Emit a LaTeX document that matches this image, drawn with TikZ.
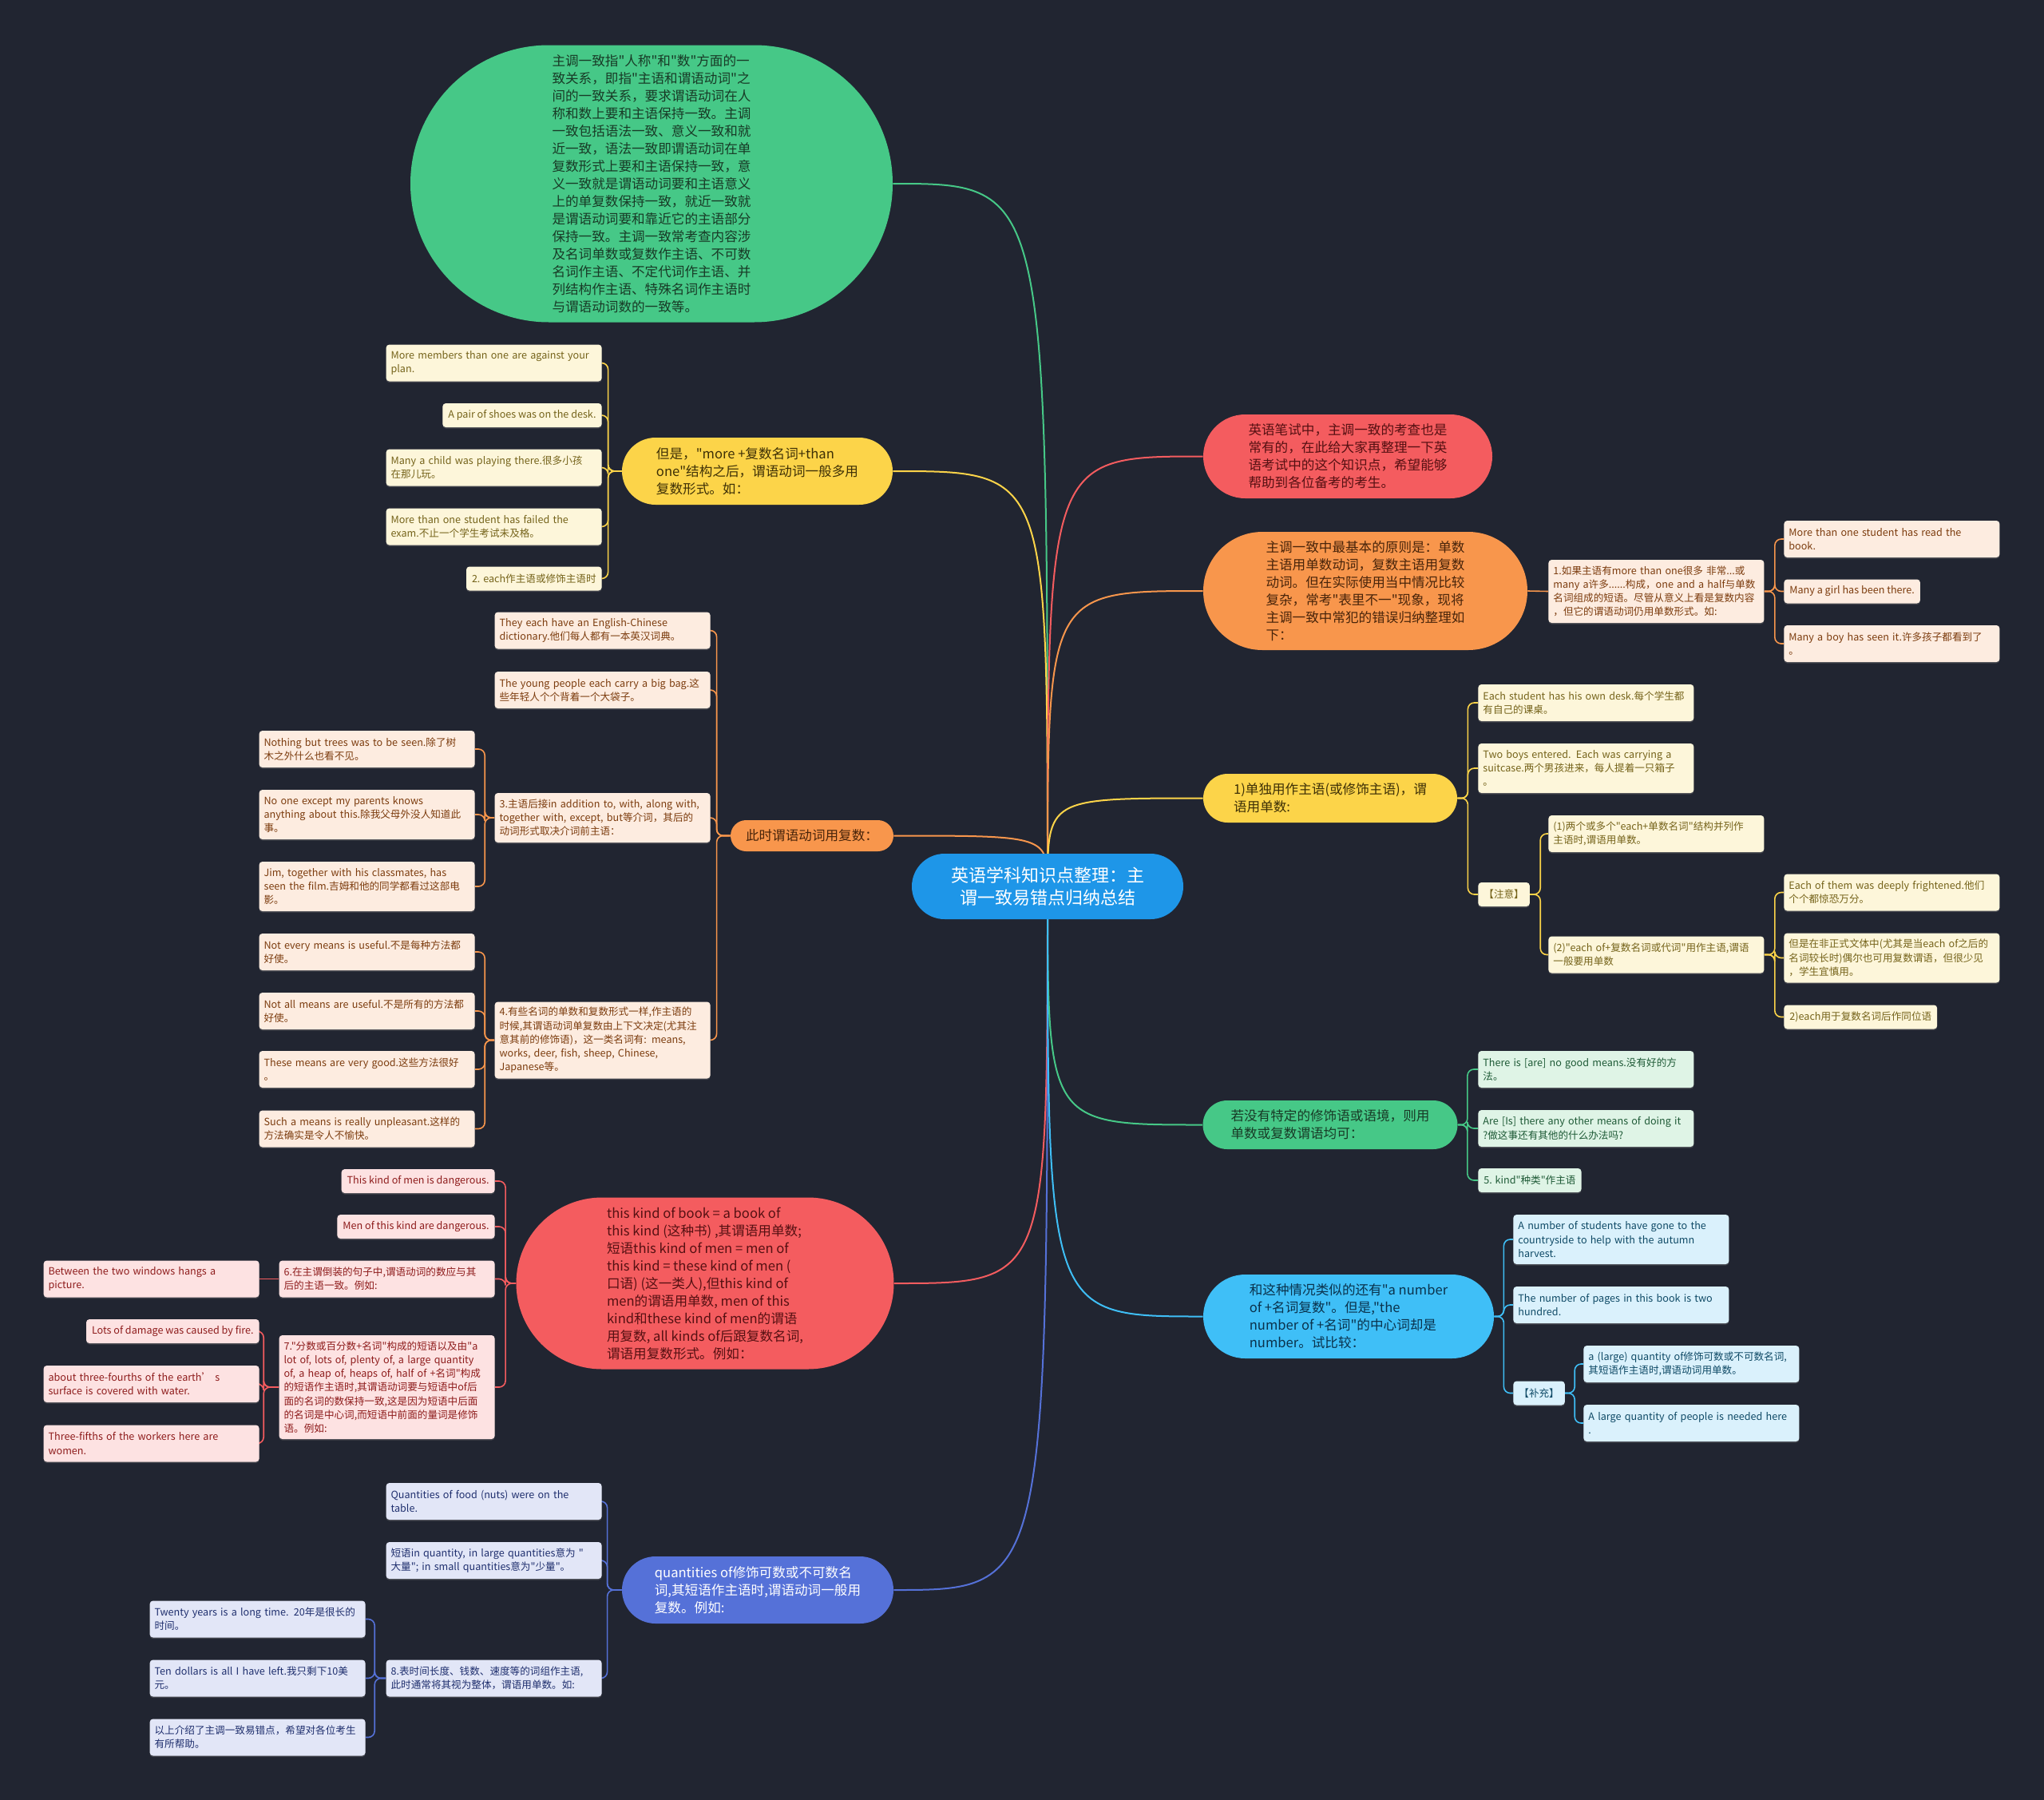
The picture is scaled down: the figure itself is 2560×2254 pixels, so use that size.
\documentclass[tikz,border=0pt]{standalone}
\usepackage{fontspec}
\setmainfont{Noto Sans CJK SC}[Ligatures=TeXOff]
\usetikzlibrary{shapes.misc, backgrounds, shadows}
\definecolor{bgcol}{RGB}{33,37,49}
\definecolor{cRoot}{RGB}{30,150,232}
\definecolor{cGreen}{RGB}{70,200,135}
\definecolor{cYellow}{RGB}{252,212,73}
\definecolor{cOrange}{RGB}{248,150,76}
\definecolor{cRed}{RGB}{244,92,95}
\definecolor{cIndigo}{RGB}{85,113,216}
\definecolor{cSky}{RGB}{63,191,247}
\definecolor{tGreen}{RGB}{24,58,38}
\definecolor{tYellow}{RGB}{62,48,6}
\definecolor{tOrange}{RGB}{72,36,10}
\definecolor{tRed}{RGB}{86,16,18}
\definecolor{tSky}{RGB}{10,50,76}
\definecolor{fGreen}{RGB}{223,244,230}
\definecolor{fYellow}{RGB}{253,246,218}
\definecolor{fOrange}{RGB}{253,236,224}
\definecolor{fRed}{RGB}{253,226,226}
\definecolor{fIndigo}{RGB}{226,230,247}
\definecolor{fSky}{RGB}{218,241,252}
\definecolor{kGreen}{RGB}{30,90,54}
\definecolor{kYellow}{RGB}{117,99,26}
\definecolor{kOrange}{RGB}{124,60,14}
\definecolor{kRed}{RGB}{142,28,28}
\definecolor{kIndigo}{RGB}{31,47,110}
\definecolor{kSky}{RGB}{15,74,102}
\tikzstyle{every node}=[font=\fontsize{6.3}{8.6}\selectfont]
\tikzstyle{rootnode}=[rounded rectangle, fill=cRoot, text=white, align=center, inner sep=0pt, minimum width=170pt, minimum height=41pt, font=\fontsize{11}{14}\selectfont]
\tikzstyle{branch}=[rounded rectangle, align=left, inner sep=0pt, font=\fontsize{8.3}{11}\selectfont]
\tikzstyle{leaf}=[rectangle, rounded corners=2pt, align=left, inner xsep=3.5pt, inner ysep=2pt, drop shadow={shadow xshift=0pt, shadow yshift=-0.8pt, opacity=.35}]
\tikzstyle{wide}=[text width=129pt, inner xsep=3pt]
\tikzstyle{one}=[minimum height=15pt]
\tikzstyle{two}=[minimum height=23pt]
\tikzstyle{three}=[minimum height=31pt]
\tikzstyle{gleaf}=[leaf, fill=fGreen, text=kGreen]
\tikzstyle{yleaf}=[leaf, fill=fYellow, text=kYellow]
\tikzstyle{oleaf}=[leaf, fill=fOrange, text=kOrange]
\tikzstyle{rleaf}=[leaf, fill=fRed, text=kRed]
\tikzstyle{ileaf}=[leaf, fill=fIndigo, text=kIndigo]
\tikzstyle{sleaf}=[leaf, fill=fSky, text=kSky]
\tikzstyle{rootlink}=[line width=1pt]
\tikzstyle{bracket}=[line width=0.8pt, rounded corners=4pt]

\begin{document}
\begin{tikzpicture}[x=0.5pt, y=-0.5pt]
\useasboundingbox (0,0) rectangle (2560,2254);
% central topic
\node[rootnode] (root) at (1312,1110) {英语学科知识点整理：主\\谓一致易错点归纳总结};

% left: definition
\node[branch, fill=cGreen, text=tGreen, minimum width=302pt, minimum height=173.5pt] (defTop) at (816,230) {主调一致指"人称"和"数"方面的一\\致关系，即指"主语和谓语动词"之\\间的一致关系，要求谓语动词在人\\称和数上要和主语保持一致。主调\\一致包括语法一致、意义一致和就\\近一致，语法一致即谓语动词在单\\复数形式上要和主语保持一致，意\\义一致就是谓语动词要和主语意义\\上的单复数保持一致，就近一致就\\是谓语动词要和靠近它的主语部分\\保持一致。主调一致常考查内容涉\\及名词单数或复数作主语、不可数\\名词作主语、不定代词作主语、并\\列结构作主语、特殊名词作主语时\\与谓语动词数的一致等。};

% left: more than one
\node[branch, fill=cYellow, text=tYellow, minimum width=169.5pt, minimum height=42pt] (moreB) at (948.5,590) {但是，"more +复数名词+than\\one"结构之后，谓语动词一般多用\\复数形式。如：};
\node[yleaf, wide, two, anchor=east] (more1) at (754,454.5) {More members than one are against your\\plan.};
\node[yleaf, one, anchor=east] (more2) at (754,520) {A pair of shoes was on the desk.};
\node[yleaf, wide, two, anchor=east] (more3) at (754,585.5) {Many a child was playing there.很多小孩\\在那儿玩。};
\node[yleaf, wide, two, anchor=east] (more4) at (754,659.5) {More than one student has failed the\\exam.不止一个学生考试未及格。};
\node[yleaf, one, anchor=east] (more5) at (754,724.5) {2. each作主语或修饰主语时};

% left: plural verb
\node[branch, fill=cOrange, text=tOrange, minimum width=102pt, minimum height=19.5pt] (pluralB) at (1017,1046.5) {此时谓语动词用复数：};
\node[oleaf, wide, two, anchor=east] (plural1) at (890,789.5) {They each have an English-Chinese\\dictionary.他们每人都有一本英汉词典。};
\node[oleaf, wide, two, anchor=east] (plural2) at (890,864) {The young people each carry a big bag.这\\些年轻人个个背着一个大袋子。};
\node[oleaf, wide, three, anchor=east] (plural3) at (890,1024) {3.主语后接in addition to, with, along with,\\together with, except, but等介词，其后的\\动词形式取决介词前主语：};
\node[oleaf, wide, minimum height=48pt, anchor=east] (plural4) at (890,1302.5) {4.有些名词的单数和复数形式一样,作主语的\\时候,其谓语动词单复数由上下文决定(尤其注\\意其前的修饰语)，这一类名词有: means,\\works, deer, fish, sheep, Chinese,\\Japanese等。};
\node[oleaf, wide, two, anchor=east] (plural31) at (595,938) {Nothing but trees was to be seen.除了树\\木之外什么也看不见。};
\node[oleaf, wide, three, anchor=east] (plural32) at (595,1020) {No one except my parents knows\\anything about this.除我父母外没人知道此\\事。};
\node[oleaf, wide, three, anchor=east] (plural33) at (595,1110) {Jim, together with his classmates, has\\seen the film.吉姆和他的同学都看过这部电\\影。};
\node[oleaf, wide, two, anchor=east] (plural41) at (595,1192) {Not every means is useful.不是每种方法都\\好使。};
\node[oleaf, wide, two, anchor=east] (plural42) at (595,1266) {Not all means are useful.不是所有的方法都\\好使。};
\node[oleaf, wide, two, anchor=east] (plural43) at (595,1339) {These means are very good.这些方法很好\\。};
\node[oleaf, wide, two, anchor=east] (plural44) at (595,1413.5) {Such a means is really unpleasant.这样的\\方法确实是令人不愉快。};

% left: this kind of
\node[branch, fill=cRed, text=tRed, minimum width=236.5pt, minimum height=107.5pt] (kindB) at (883,1607) {this kind of book = a book of\\this kind (这种书) ,其谓语用单数;\\短语this kind of men = men of\\this kind = these kind of men (\\口语) (这一类人),但this kind of\\men的谓语用单数, men of this\\kind和these kind of men的谓语\\用复数, all kinds of后跟复数名词,\\谓语用复数形式。例如：};
\node[rleaf, one, anchor=east] (kind1) at (620,1479) {This kind of men is dangerous.};
\node[rleaf, one, anchor=east] (kind2) at (620,1536) {Men of this kind are dangerous.};
\node[rleaf, wide, two, anchor=east] (kind6) at (620,1601.5) {6.在主谓倒装的句子中,谓语动词的数应与其\\后的主语一致。例如:};
\node[rleaf, wide, minimum height=65pt, anchor=east] (kind7) at (620,1737) {7."分数或百分数+名词"构成的短语以及由"a\\lot of, lots of, plenty of, a large quantity\\of, a heap of, heaps of, half of +名词"构成\\的短语作主语时,其谓语动词要与短语中of后\\面的名词的数保持一致,这是因为短语中后面\\的名词是中心词,而短语中前面的量词是修饰\\语。例如:};
\node[rleaf, wide, two, anchor=east] (kind61) at (325,1601.5) {Between the two windows hangs a\\picture.};
\node[rleaf, one, anchor=east] (kind71) at (325,1667) {Lots of damage was caused by fire.};
\node[rleaf, wide, two, anchor=east] (kind72) at (325,1733) {about three-fourths of the earth’ s\\surface is covered with water.};
\node[rleaf, wide, two, anchor=east] (kind73) at (325,1807.5) {Three-fifths of the workers here are\\women.};

% left: quantities of
\node[branch, fill=cIndigo, text=white, minimum width=170pt, minimum height=42pt] (quantB) at (949,1991) {quantities of修饰可数或不可数名\\词,其短语作主语时,谓语动词一般用\\复数。例如:};
\node[ileaf, wide, two, anchor=east] (quant1) at (754,1880) {Quantities of food (nuts) were on the\\table.};
\node[ileaf, wide, two, anchor=east] (quant2) at (754,1954) {短语in quantity, in large quantities意为 "\\大量"; in small quantities意为"少量"。};
\node[ileaf, wide, two, anchor=east] (quant8) at (754,2101.5) {8.表时间长度、钱数、速度等的词组作主语,\\此时通常将其视为整体，谓语用单数。如:};
\node[ileaf, wide, two, anchor=east] (quant81) at (458,2027.5) {Twenty years is a long time. 20年是很长的\\时间。};
\node[ileaf, wide, two, anchor=east] (quant82) at (458,2101.5) {Ten dollars is all I have left.我只剩下10美\\元。};
\node[ileaf, wide, two, anchor=east] (quant83) at (458,2175.5) {以上介绍了主调一致易错点，希望对各位考生\\有所帮助。};

% right: intro
\node[branch, fill=cRed, text=tRed, minimum width=181pt, minimum height=52.5pt] (introB) at (1688,571.5) {英语笔试中，主调一致的考查也是\\常有的，在此给大家再整理一下英\\语考试中的这个知识点，希望能够\\帮助到各位备考的考生。};

% right: basic rule
\node[branch, fill=cOrange, text=tOrange, minimum width=203pt, minimum height=74pt] (ruleB) at (1710,740) {主调一致中最基本的原则是：单数\\主语用单数动词，复数主语用复数\\动词。但在实际使用当中情况比较\\复杂，常考"表里不一"现象，现将\\主调一致中常犯的错误归纳整理如\\下：};
\node[oleaf, wide, minimum height=39.5pt, anchor=west] (rule1) at (1939,740.5) {1.如果主语有more than one很多 非常...或\\many a许多......构成，one and a half与单数\\名词组成的短语。尽管从意义上看是复数内容\\，但它的谓语动词仍用单数形式。如:};
\node[oleaf, wide, two, anchor=west] (rule11) at (2234,675) {More than one student has read the\\book.};
\node[oleaf, one, anchor=west] (rule12) at (2234,740.5) {Many a girl has been there.};
\node[oleaf, wide, two, anchor=west] (rule13) at (2234,806) {Many a boy has seen it.许多孩子都看到了\\。};

% right: each
\node[branch, fill=cYellow, text=tYellow, minimum width=159pt, minimum height=30.5pt] (eachB) at (1666,999.5) {1)单独用作主语(或修饰主语)，谓\\语用单数:};
\node[yleaf, wide, two, anchor=west] (each1) at (1851,880) {Each student has his own desk.每个学生都\\有自己的课桌。};
\node[yleaf, wide, three, anchor=west] (each2) at (1851,962) {Two boys entered. Each was carrying a\\suitcase.两个男孩进来，每人提着一只箱子\\。};
\node[yleaf, one, anchor=west] (eachNote) at (1851,1120) {【注意】};
\node[yleaf, wide, two, anchor=west] (eachN1) at (1939,1044) {(1)两个或多个"each+单数名词"结构并列作\\主语时,谓语用单数。};
\node[yleaf, wide, two, anchor=west] (eachN2) at (1939,1195.5) {(2)"each of+复数名词或代词"用作主语,谓语\\一般要用单数};
\node[yleaf, wide, two, anchor=west] (eachN21) at (2234,1117.5) {Each of them was deeply frightened.他们\\个个都惊恐万分。};
\node[yleaf, wide, three, anchor=west] (eachN22) at (2234,1199.5) {但是在非正式文体中(尤其是当each of之后的\\名词较长时)偶尔也可用复数谓语，但很少见\\，学生宜慎用。};
\node[yleaf, one, anchor=west] (eachN23) at (2234,1273.5) {2)each用于复数名词后作同位语};

% right: means
\node[branch, fill=cGreen, text=tGreen, minimum width=159.5pt, minimum height=30.5pt] (meansB) at (1666,1408.5) {若没有特定的修饰语或语境，则用\\单数或复数谓语均可：};
\node[gleaf, wide, two, anchor=west] (means1) at (1851,1339) {There is [are] no good means.没有好的方\\法。};
\node[gleaf, wide, two, anchor=west] (means2) at (1851,1413) {Are [Is] there any other means of doing it\\?做这事还有其他的什么办法吗?};
\node[gleaf, one, anchor=west] (means3) at (1851,1478) {5. kind"种类"作主语};

% right: a number of
\node[branch, fill=cSky, text=tSky, minimum width=182pt, minimum height=52.5pt] (numberB) at (1689,1648.5) {和这种情况类似的还有"a number\\of +名词复数"。但是,"the\\number of +名词"的中心词却是\\number。试比较：};
\node[sleaf, wide, three, anchor=west] (number1) at (1895,1552) {A number of students have gone to the\\countryside to help with the autumn\\harvest.};
\node[sleaf, wide, two, anchor=west] (number2) at (1895,1634) {The number of pages in this book is two\\hundred.};
\node[sleaf, one, anchor=west] (numberAdd) at (1895,1744.5) {【补充】};
\node[sleaf, wide, two, anchor=west] (numberAdd1) at (1983,1708) {a (large) quantity of修饰可数或不可数名词,\\其短语作主语时,谓语动词用单数。};
\node[sleaf, wide, two, anchor=west] (numberAdd2) at (1983,1782) {A large quantity of people is needed here\\.};

\begin{scope}[on background layer]
\fill[bgcol] (0,0) rectangle (2560,2254);
% root links
\draw[rootlink, draw=cGreen] (root.center) .. controls (root.center |- defTop.east) .. (defTop.east);
\draw[rootlink, draw=cYellow] (root.center) .. controls (root.center |- moreB.east) .. (moreB.east);
\draw[rootlink, draw=cOrange] (root.center) .. controls (root.center |- pluralB.east) .. (pluralB.east);
\draw[rootlink, draw=cRed] (root.center) .. controls (root.center |- kindB.east) .. (kindB.east);
\draw[rootlink, draw=cIndigo] (root.center) .. controls (root.center |- quantB.east) .. (quantB.east);
\draw[rootlink, draw=cRed] (root.center) .. controls (root.center |- introB.west) .. (introB.west);
\draw[rootlink, draw=cOrange] (root.center) .. controls (root.center |- ruleB.west) .. (ruleB.west);
\draw[rootlink, draw=cYellow] (root.center) .. controls (root.center |- eachB.west) .. (eachB.west);
\draw[rootlink, draw=cGreen] (root.center) .. controls (root.center |- meansB.west) .. (meansB.west);
\draw[rootlink, draw=cSky] (root.center) .. controls (root.center |- numberB.west) .. (numberB.west);
% brackets, left side
\draw[bracket, draw=cYellow] (moreB.west) -- ++(-17,0) |- (more1.east);
\draw[bracket, draw=cYellow] (moreB.west) -- ++(-17,0) |- (more2.east);
\draw[bracket, draw=cYellow] (moreB.west) -- ++(-17,0) |- (more3.east);
\draw[bracket, draw=cYellow] (moreB.west) -- ++(-17,0) |- (more4.east);
\draw[bracket, draw=cYellow] (moreB.west) -- ++(-17,0) |- (more5.east);
\draw[bracket, draw=cOrange] (pluralB.west) -- ++(-17,0) |- (plural1.east);
\draw[bracket, draw=cOrange] (pluralB.west) -- ++(-17,0) |- (plural2.east);
\draw[bracket, draw=cOrange] (pluralB.west) -- ++(-17,0) |- (plural3.east);
\draw[bracket, draw=cOrange] (pluralB.west) -- ++(-17,0) |- (plural4.east);
\draw[bracket, draw=cOrange] (plural3.west) -- ++(-12,0) |- (plural31.east);
\draw[bracket, draw=cOrange] (plural3.west) -- ++(-12,0) |- (plural32.east);
\draw[bracket, draw=cOrange] (plural3.west) -- ++(-12,0) |- (plural33.east);
\draw[bracket, draw=cOrange] (plural4.west) -- ++(-12,0) |- (plural41.east);
\draw[bracket, draw=cOrange] (plural4.west) -- ++(-12,0) |- (plural42.east);
\draw[bracket, draw=cOrange] (plural4.west) -- ++(-12,0) |- (plural43.east);
\draw[bracket, draw=cOrange] (plural4.west) -- ++(-12,0) |- (plural44.east);
\draw[bracket, draw=cRed] (kindB.west) -- ++(-13,0) |- (kind1.east);
\draw[bracket, draw=cRed] (kindB.west) -- ++(-13,0) |- (kind2.east);
\draw[bracket, draw=cRed] (kindB.west) -- ++(-13,0) |- (kind6.east);
\draw[bracket, draw=cRed] (kindB.west) -- ++(-13,0) |- (kind7.east);
\draw[bracket, draw=cRed] (kind6.west) -- (kind61.east);
\draw[bracket, draw=cRed] (kind7.west) -- ++(-19,0) |- (kind71.east);
\draw[bracket, draw=cRed] (kind7.west) -- ++(-19,0) |- (kind72.east);
\draw[bracket, draw=cRed] (kind7.west) -- ++(-19,0) |- (kind73.east);
\draw[bracket, draw=cIndigo] (quantB.west) -- ++(-18,0) |- (quant1.east);
\draw[bracket, draw=cIndigo] (quantB.west) -- ++(-18,0) |- (quant2.east);
\draw[bracket, draw=cIndigo] (quantB.west) -- ++(-18,0) |- (quant8.east);
\draw[bracket, draw=cIndigo] (quant8.west) -- ++(-14,0) |- (quant81.east);
\draw[bracket, draw=cIndigo] (quant8.west) -- ++(-14,0) |- (quant82.east);
\draw[bracket, draw=cIndigo] (quant8.west) -- ++(-14,0) |- (quant83.east);
% brackets, right side
\draw[bracket, draw=cOrange] (ruleB.east) -- (rule1.west);
\draw[bracket, draw=cOrange] (rule1.east) -- ++(13,0) |- (rule11.west);
\draw[bracket, draw=cOrange] (rule1.east) -- ++(13,0) |- (rule12.west);
\draw[bracket, draw=cOrange] (rule1.east) -- ++(13,0) |- (rule13.west);
\draw[bracket, draw=cYellow] (eachB.east) -- ++(13,0) |- (each1.west);
\draw[bracket, draw=cYellow] (eachB.east) -- ++(13,0) |- (each2.west);
\draw[bracket, draw=cYellow] (eachB.east) -- ++(13,0) |- (eachNote.west);
\draw[bracket, draw=cYellow] (eachNote.east) -- ++(13,0) |- (eachN1.west);
\draw[bracket, draw=cYellow] (eachNote.east) -- ++(13,0) |- (eachN2.west);
\draw[bracket, draw=cYellow] (eachN2.east) -- ++(13,0) |- (eachN21.west);
\draw[bracket, draw=cYellow] (eachN2.east) -- ++(13,0) |- (eachN22.west);
\draw[bracket, draw=cYellow] (eachN2.east) -- ++(13,0) |- (eachN23.west);
\draw[bracket, draw=cGreen] (meansB.east) -- ++(12,0) |- (means1.west);
\draw[bracket, draw=cGreen] (meansB.east) -- ++(12,0) |- (means2.west);
\draw[bracket, draw=cGreen] (meansB.east) -- ++(12,0) |- (means3.west);
\draw[bracket, draw=cSky] (numberB.east) -- ++(12,0) |- (number1.west);
\draw[bracket, draw=cSky] (numberB.east) -- ++(12,0) |- (number2.west);
\draw[bracket, draw=cSky] (numberB.east) -- ++(12,0) |- (numberAdd.west);
\draw[bracket, draw=cSky] (numberAdd.east) -- ++(12,0) |- (numberAdd1.west);
\draw[bracket, draw=cSky] (numberAdd.east) -- ++(12,0) |- (numberAdd2.west);
\end{scope}
\end{tikzpicture}
\end{document}
